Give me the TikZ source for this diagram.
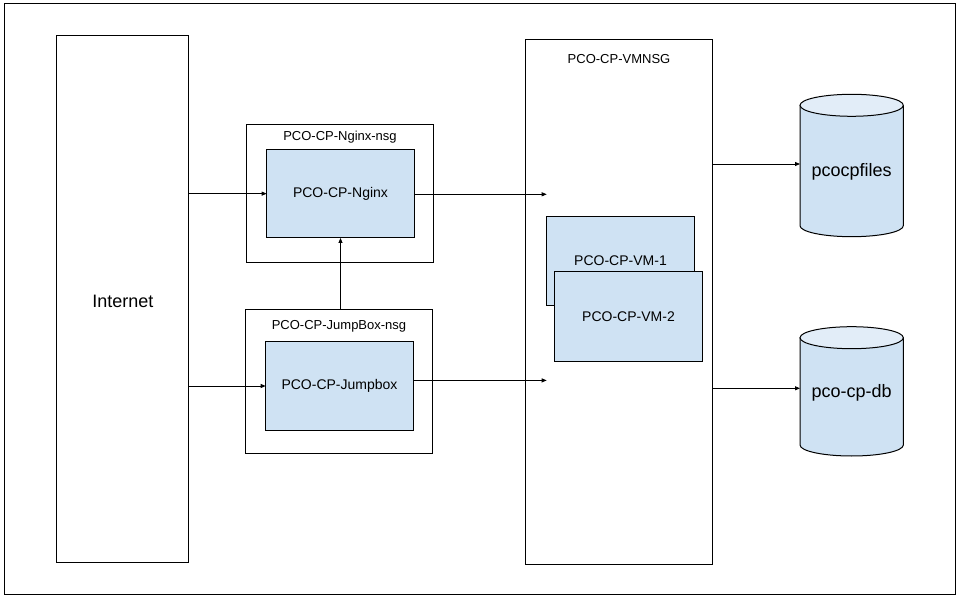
\documentclass[tikz,border=0pt]{standalone}
\usepackage{fontspec}
\setmainfont{Liberation Sans}
\usetikzlibrary{arrows.meta,calc}
\definecolor{boxblue}{HTML}{CFE2F3}
\definecolor{topblue}{HTML}{E2EDF8}
\tikzset{
  x=1pt,y=1pt,
  every node/.style={inner sep=0pt,outer sep=0pt},
  frame/.style={draw=black,line width=1pt,fill=white,anchor=north west},
  vmbox/.style={draw=black,line width=1pt,fill=boxblue,anchor=north west,font=\fontsize{14}{16}\selectfont},
  grouplabel/.style={font=\fontsize{13}{15}\selectfont},
  bigtext/.style={font=\fontsize{18}{21}\selectfont},
  arr/.style={draw=black,line width=0.8pt,-{Triangle[length=5pt,width=4pt]}},
  cylslot/.style={anchor=north west,minimum width=103.3pt,minimum height=142.4pt},
}
\begin{document}
\begin{tikzpicture}
\useasboundingbox (0,0) rectangle (960,600);
\fill[white] (0,0) rectangle (960,600);
\draw[line width=1pt] (4.5,5.5) rectangle (955,596.5);

% Internet
\node[frame,minimum width=131.6pt,minimum height=526.3pt] (inet) at (56.7,564.3) {};
\node[bigtext] (inettxt) at (122.8,299) {Internet};

% Nginx group
\node[frame,minimum width=186.6pt,minimum height=137.6pt] (nginxnsg) at (246.7,475.3) {};
\node[grouplabel] (nginxlbl) at (340,463) {PCO-CP-Nginx-nsg};
\node[vmbox,minimum width=147.6pt,minimum height=88.7pt] (nginx) at (266.7,450.7) {PCO-CP-Nginx};

% JumpBox group
\node[frame,minimum width=186.6pt,minimum height=143.6pt] (jumpnsg) at (245.7,290.3) {};
\node[grouplabel] (jumplbl) at (339,273.3) {PCO-CP-JumpBox-nsg};
\node[vmbox,minimum width=147.6pt,minimum height=88.6pt] (jump) at (265.7,258.3) {PCO-CP-Jumpbox};

% VM NSG
\node[frame,minimum width=186.3pt,minimum height=525pt] (vmnsg) at (525.7,560.3) {};
\node[grouplabel] (vmnsglbl) at (619,540.7) {PCO-CP-VMNSG};
\node[vmbox,minimum width=147.6pt,minimum height=89pt] (vm1) at (546.7,383.7) {PCO-CP-VM-1};
\node[vmbox,minimum width=148.4pt,minimum height=89.3pt] (vm2) at (554.3,328) {PCO-CP-VM-2};

% Cylinders
\node[cylslot] (files) at (800,505.7) {};
\node[cylslot,minimum height=129.3pt] (db) at (800,273.3) {};
\foreach \c in {files,db}{
  \fill[boxblue] ([yshift=-11pt]\c.north west) -- ([yshift=11pt]\c.south west)
     arc[start angle=180,end angle=360,x radius=51.65pt,y radius=11pt]
     -- ([yshift=-11pt]\c.north east) -- cycle;
  \draw[line width=1pt] ([yshift=-11pt]\c.north west) -- ([yshift=11pt]\c.south west)
     arc[start angle=180,end angle=360,x radius=51.65pt,y radius=11pt]
     -- ([yshift=-11pt]\c.north east);
  \draw[line width=1pt,fill=topblue] ([yshift=-11pt]\c.north) ellipse[x radius=51.65pt,y radius=11pt];
}
\node[bigtext] (filestxt) at (851.65,427.7) {pcocpfiles};
\node[bigtext] (dbtxt) at (851.65,206.7) {pco-cp-db};

% free ends
\coordinate (c1) at (546.7,405.7);
\coordinate (c2) at (546.7,219.6);

% connectors
\draw[arr] (inet.east |- nginx.west) -- (nginx.west);
\draw[arr] (inet.east |- jump.west) -- (jump.west);
\draw[arr] (nginx.east |- c1) -- (c1);
\draw[arr] (jump.east |- c2) -- (c2);
\draw[arr] (nginx.south |- jumpnsg.north) -- (nginx.south);
\draw[arr] (vmnsg.east |- 0,436) -- (files.west |- 0,436);
\draw[arr] (vmnsg.east |- 0,211.7) -- (db.west |- 0,211.7);
\end{tikzpicture}
\end{document}
